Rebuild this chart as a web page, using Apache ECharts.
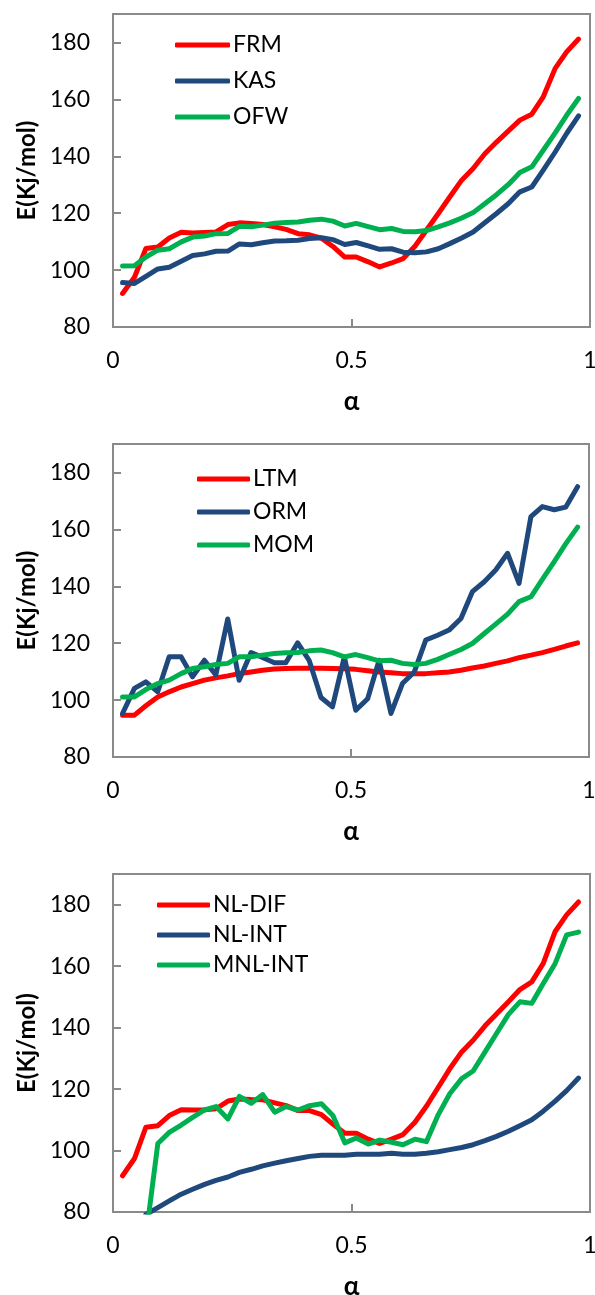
<!DOCTYPE html>
<html>
<head>
<meta charset="utf-8">
<script src="https://cdn.jsdelivr.net/npm/echarts@6/dist/echarts.min.js"></script>
<style>
html,body{margin:0;padding:0;background:#fff;}
#c{width:595px;height:1295px;}
</style>
</head>
<body>
<div id="c"></div>
<script>
// conversion fraction alpha
const alpha = [0.020, 0.045, 0.069, 0.094, 0.118, 0.143, 0.167, 0.192, 0.216, 0.241,
  0.265, 0.290, 0.314, 0.339, 0.363, 0.388, 0.412, 0.437, 0.461, 0.486,
  0.510, 0.535, 0.559, 0.584, 0.608, 0.633, 0.657, 0.682, 0.706, 0.731,
  0.755, 0.780, 0.804, 0.829, 0.853, 0.878, 0.902, 0.927, 0.951, 0.976];

// Panel 1
const FRM = [91.8, 97.5, 107.6, 108.1, 111.3, 113.3, 113.0, 113.2, 113.4, 116.0,
  116.6, 116.4, 116.0, 115.2, 114.3, 112.8, 112.4, 111.2, 108.3, 104.6,
  104.6, 102.9, 101.1, 102.5, 104.0, 108.4, 114.0, 119.9, 125.7, 131.6,
  135.7, 141.0, 145.0, 148.9, 152.7, 154.8, 160.9, 170.9, 176.7, 181.2];
const KAS = [95.6, 95.3, 97.8, 100.4, 101.0, 103.1, 105.1, 105.7, 106.6, 106.7,
  109.2, 108.9, 109.6, 110.2, 110.3, 110.5, 111.1, 111.4, 110.7, 109.0,
  109.7, 108.5, 107.3, 107.5, 106.3, 106.1, 106.4, 107.5, 109.3, 111.3,
  113.4, 116.7, 119.9, 123.4, 127.5, 129.2, 135.1, 141.5, 148.0, 154.2];
const OFW = [101.4, 101.5, 104.6, 107.0, 107.5, 109.9, 111.6, 112.0, 112.8, 112.9,
  115.4, 115.2, 115.8, 116.5, 116.7, 116.9, 117.5, 117.9, 117.2, 115.5,
  116.4, 115.3, 114.2, 114.6, 113.6, 113.5, 113.9, 115.2, 116.6, 118.3,
  120.2, 123.4, 126.5, 130.1, 134.3, 136.3, 142.1, 148.2, 154.4, 160.3];

// Panel 2
const LTM = [94.7, 94.7, 98.0, 101.1, 102.9, 104.6, 105.8, 107.0, 107.8, 108.5,
  109.3, 109.9, 110.5, 110.9, 111.1, 111.2, 111.2, 111.2, 111.1, 111.0,
  110.8, 110.3, 109.9, 109.6, 109.3, 109.3, 109.3, 109.6, 109.9, 110.5,
  111.3, 112.0, 112.9, 113.8, 114.9, 115.8, 116.7, 117.8, 119.0, 120.1];
const ORM = [95.3, 104.1, 106.4, 102.9, 115.2, 115.2, 108.2, 114.0, 108.8, 128.5,
  107.0, 116.7, 115.0, 113.1, 113.1, 120.1, 114.0, 100.9, 97.6, 115.2,
  96.4, 100.5, 114.0, 95.3, 105.8, 109.9, 121.1, 122.8, 124.6, 128.7,
  138.1, 141.6, 145.7, 151.6, 141.0, 164.5, 168.0, 166.9, 167.8, 175.0];
const MOM = [101.1, 101.1, 103.7, 105.8, 107.0, 109.3, 111.1, 111.7, 112.5, 112.9,
  115.2, 115.2, 115.8, 116.4, 116.6, 116.7, 117.3, 117.6, 116.7, 115.2,
  116.0, 114.9, 113.8, 114.0, 112.9, 112.5, 112.9, 114.3, 116.0, 117.8,
  119.9, 123.4, 126.7, 130.2, 134.6, 136.3, 142.4, 148.7, 154.9, 160.8];

// Panel 3
const NL_DIF = [91.8, 97.4, 107.6, 108.1, 111.4, 113.3, 113.2, 113.3, 113.6, 116.1,
  116.8, 116.6, 116.5, 115.5, 114.6, 113.0, 113.0, 111.7, 108.6, 105.6,
  105.6, 103.7, 102.3, 103.7, 105.2, 109.2, 114.4, 120.6, 126.6, 132.1,
  135.9, 140.6, 144.4, 148.4, 152.4, 154.9, 160.9, 171.3, 176.7, 180.9];
const NL_INT = [null, null, 79.2, 81.4, 83.6, 85.8, 87.4, 89.0, 90.3, 91.4,
  92.9, 93.9, 95.0, 95.9, 96.7, 97.4, 98.1, 98.5, 98.5, 98.5,
  98.8, 98.8, 98.8, 99.1, 98.8, 98.8, 99.1, 99.6, 100.3, 101.0,
  101.9, 103.2, 104.6, 106.3, 108.1, 110.0, 112.8, 116.1, 119.5, 123.6];
const MNL_INT = [null, null, 72.0, 102.3, 105.9, 108.3, 110.8, 113.2, 114.3, 110.3,
  117.6, 115.4, 118.2, 112.5, 114.3, 113.2, 114.6, 115.2, 111.4, 102.5,
  104.1, 102.1, 103.4, 102.7, 101.9, 103.7, 102.9, 111.7, 118.5, 123.4,
  125.9, 132.1, 138.1, 144.3, 148.4, 147.9, 154.4, 160.9, 170.2, 171.1];

const panels = [
  {names: ['FRM', 'KAS', 'OFW'], data: [FRM, KAS, OFW]},
  {names: ['LTM', 'ORM', 'MOM'], data: [LTM, ORM, MOM]},
  {names: ['NL-DIF', 'NL-INT', 'MNL-INT'], data: [NL_DIF, NL_INT, MNL_INT]}
];
const colors = ['#FF0000', '#1F497D', '#00B050'];

// layout
const grids = [
  {left: 113, top: 14, width: 477, height: 313},
  {left: 113, top: 444, width: 476, height: 313},
  {left: 113, top: 874, width: 477, height: 338}
];
const legendPos = [
  {left: 175, top: 32, itemGap: 10, itemWidth: 55},
  {left: 197, top: 466, itemGap: 7, itemWidth: 53},
  {left: 157, top: 892, itemGap: 4, itemWidth: 53}
];

const FONT = 'Lato, "Open Sans", sans-serif';
const AX = '#8a8a8a';

const option = {
  animation: false,
  backgroundColor: '#fff',
  grid: grids.map(g => Object.assign({show: true, borderColor: AX, borderWidth: 2, outerBoundsMode: 'none', containLabel: false}, g)),
  xAxis: grids.map((g, i) => ({
    type: 'value', gridIndex: i, min: 0, max: 1, interval: 0.5,
    name: 'α', nameLocation: 'middle', nameGap: 62,
    nameTextStyle: {fontFamily: FONT, fontSize: 26, fontWeight: 'bold', color: '#000'},
    axisLine: {show: true, onZero: false, lineStyle: {color: AX, width: 2}},
    axisTick: {show: true, inside: true, length: 8, lineStyle: {color: AX, width: 2}},
    axisLabel: {fontFamily: FONT, fontSize: 23, color: '#000', margin: 22},
    splitLine: {show: false}
  })),
  yAxis: grids.map((g, i) => ({
    type: 'value', gridIndex: i, min: 80, max: 190, interval: 20,
    name: 'E(Kj/mol)', nameLocation: 'middle', nameGap: 74, nameRotate: 90,
    nameTextStyle: {fontFamily: FONT, fontSize: 24, fontWeight: 'bold', color: '#000'},
    axisLine: {show: true, onZero: false, lineStyle: {color: AX, width: 2}},
    axisTick: {show: true, inside: true, length: 8, lineStyle: {color: AX, width: 2}},
    axisLabel: {fontFamily: FONT, fontSize: 23, color: '#000', margin: 23, showMaxLabel: false},
    splitLine: {show: false}
  })),
  legend: panels.map((p, i) => ({
    data: p.names, orient: 'vertical', left: legendPos[i].left, top: legendPos[i].top,
    icon: 'roundRect',
    itemGap: legendPos[i].itemGap, itemWidth: legendPos[i].itemWidth, itemHeight: 5,
    textStyle: {fontFamily: FONT, fontSize: 23, color: '#000', lineHeight: 26, padding: [0, 0, 0, -2]},
    padding: 0, selectedMode: false
  })),
  series: []
};

panels.forEach((p, pi) => {
  p.names.forEach((n, si) => {
    option.series.push({
      name: n, type: 'line', xAxisIndex: pi, yAxisIndex: pi,
      data: alpha.map((a, k) => [a, p.data[si][k]]),
      symbol: 'none', showSymbol: false, clip: true, connectNulls: false,
      color: colors[si],
      itemStyle: {color: colors[si]},
      lineStyle: {color: colors[si], width: 5, cap: 'round', join: 'round'}
    });
  });
});

const chart = echarts.init(document.getElementById('c'), null, {renderer: 'canvas'});
chart.setOption(option);
</script>
</body>
</html>
